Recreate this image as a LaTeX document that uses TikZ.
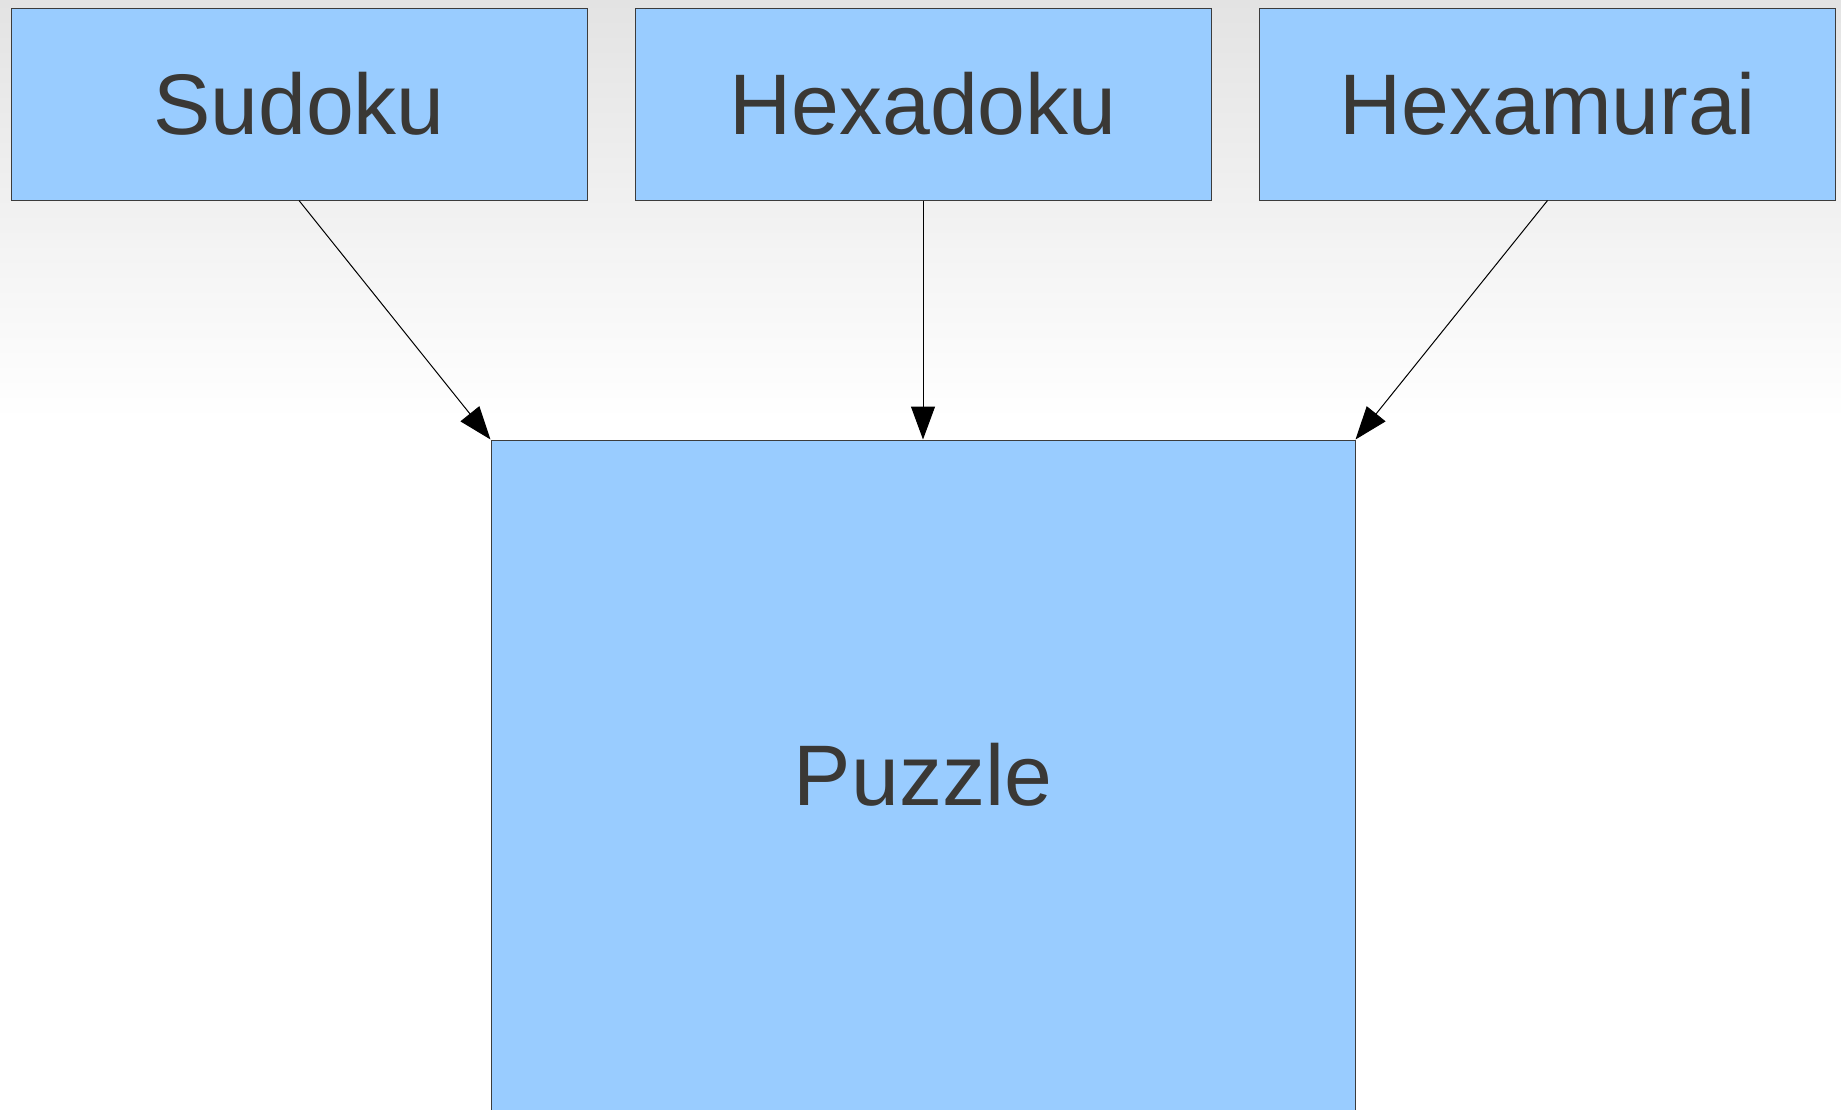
\documentclass[tikz,border=0pt]{standalone}
\usepackage{fontspec}
\setmainfont{Liberation Sans}
\usetikzlibrary{arrows.meta}
\definecolor{boxfill}{HTML}{99CCFF}
\definecolor{txt}{HTML}{3A3835}
\definecolor{bgtop}{HTML}{E3E3E3}
\definecolor{edge}{HTML}{3C3C3C}
\begin{document}
\begin{tikzpicture}[x=1pt,y=-1pt,
  pbox/.style={draw=edge, line width=1pt, fill=boxfill, text=txt, inner sep=0pt,
    font=\fontsize{86}{86}\selectfont},
  conn/.style={line width=1pt, -{Triangle[length=33pt,width=24pt]}}]
\useasboundingbox (0,0) rectangle (1841,1109);
\clip (0,0) rectangle (1841,1109);
\fill[white] (0,0) rectangle (1841,1109);
\shade[top color=bgtop, bottom color=white] (0,0) rectangle (1841,420);
\node[pbox, minimum width=576pt, minimum height=192pt] (sud) at (299,104) {Sudoku};
\node[pbox, minimum width=576pt, minimum height=192pt] (hxd) at (923,104) {Hexadoku};
\node[pbox, minimum width=576pt, minimum height=192pt] (hxm) at (1547.5,104) {Hexamurai};
\node[pbox, minimum width=864pt, minimum height=670pt] (puz) at (923,775) {Puzzle};
\draw[conn] (sud.south) -- (puz.north west);
\draw[conn] (hxd.south) -- (puz.north);
\draw[conn] (hxm.south) -- (puz.north east);
\end{tikzpicture}
\end{document}
